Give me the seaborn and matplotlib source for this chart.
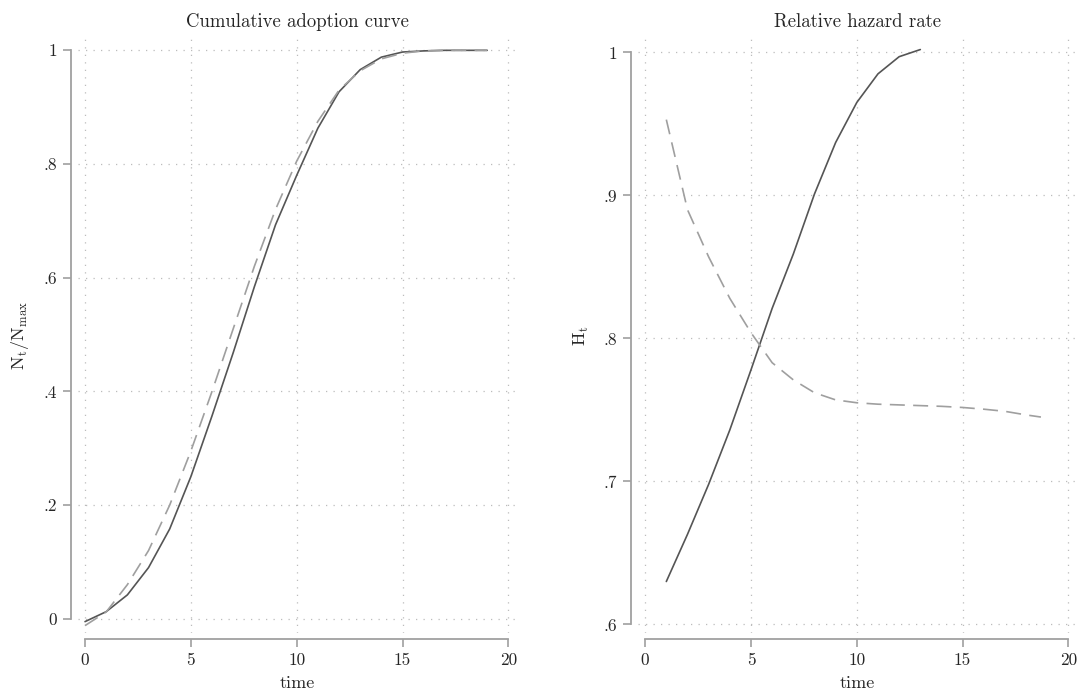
import numpy as np
import pandas as pd
import seaborn as sns
import matplotlib
matplotlib.use("Agg")
import matplotlib.pyplot as plt

# ---------------- data ----------------
time_adopt = list(range(0, 20))
adopt_solid = [-0.005, 0.0125, 0.042, 0.090, 0.158, 0.250, 0.357, 0.468, 0.584, 0.693,
               0.780, 0.863, 0.927, 0.966, 0.988, 0.997, 0.999, 1.000, 1.000, 1.000]
adopt_dashed = [-0.012, 0.012, 0.060, 0.120, 0.200, 0.295, 0.400, 0.510, 0.620, 0.720,
                0.805, 0.875, 0.930, 0.964, 0.985, 0.995, 0.999, 1.000, 1.000, 1.000]

time_hz_solid = list(range(1, 14))
hazard_solid = [0.630, 0.663, 0.698, 0.736, 0.778, 0.821, 0.859, 0.901, 0.937, 0.965,
                0.985, 0.997, 1.002]
time_hz_dashed = [1, 2, 3, 4, 5, 6, 7, 8, 9, 10, 11, 12, 13, 14, 15, 16, 17, 18, 18.7]
hazard_dashed = [0.953, 0.890, 0.857, 0.828, 0.804, 0.783, 0.771, 0.762, 0.757, 0.755,
                 0.754, 0.7535, 0.753, 0.7525, 0.7517, 0.7505, 0.749, 0.7465, 0.745]

x_ticks = [0, 5, 10, 15, 20]
x_ticklabels = ["0", "5", "10", "15", "20"]
y1_ticks = [0, 0.2, 0.4, 0.6, 0.8, 1.0]
y1_ticklabels = ["0", ".2", ".4", ".6", ".8", "1"]
y2_ticks = [0.6, 0.7, 0.8, 0.9, 1.0]
y2_ticklabels = [".6", ".7", ".8", ".9", "1"]

titles = ["Cumulative adoption curve", "Relative hazard rate"]
ylabels = [r"$\mathrm{N_t/N_{max}}$", r"$\mathrm{H_t}$"]
xlabel = "time"

# ---------------- style ----------------
sns.set_theme(style="white")
plt.rcParams["font.family"] = ["cmr10", "DejaVu Serif"]
plt.rcParams["mathtext.fontset"] = "cm"
plt.rcParams["axes.unicode_minus"] = False
plt.rcParams["axes.formatter.use_mathtext"] = True

SOLID = "#555555"
DASH = "#9f9f9f"
SPINE = "#a0a0a0"

fig = plt.figure(figsize=(10.78, 6.93), dpi=100)
ax1 = fig.add_axes([0.0724, 0.0866, 0.407, 0.858])
ax2 = fig.add_axes([0.592, 0.0866, 0.407, 0.858])

df1 = pd.DataFrame({"time": time_adopt, "solid": adopt_solid, "dashed": adopt_dashed})
df2s = pd.DataFrame({"time": time_hz_solid, "h": hazard_solid})
df2d = pd.DataFrame({"time": time_hz_dashed, "h": hazard_dashed})

sns.lineplot(data=df1, x="time", y="solid", ax=ax1, color=SOLID, lw=1.2)
sns.lineplot(data=df1, x="time", y="dashed", ax=ax1, color=DASH, lw=1.2,
             linestyle=(0, (9, 5)))
sns.lineplot(data=df2s, x="time", y="h", ax=ax2, color=SOLID, lw=1.2)
sns.lineplot(data=df2d, x="time", y="h", ax=ax2, color=DASH, lw=1.2,
             linestyle=(0, (9, 5)))

ax1.set_ylim(-0.025, 1.021)
ax2.set_ylim(0.594, 1.0098)

for ax, yt, ytl, title, yl in [(ax1, y1_ticks, y1_ticklabels, titles[0], ylabels[0]),
                               (ax2, y2_ticks, y2_ticklabels, titles[1], ylabels[1])]:
    ax.set_xlim(-0.33, 20.4)
    ax.set_xticks(x_ticks)
    ax.set_xticklabels(x_ticklabels)
    ax.set_yticks(yt)
    ax.set_yticklabels(ytl)
    ax.grid(True, which="major", linestyle=(0, (1, 5)), color="#bcbcbc", lw=0.9)
    ax.set_title(title, fontsize=13.5, pad=8)
    ax.set_xlabel(xlabel, fontsize=13, labelpad=6)
    ax.set_ylabel(yl, fontsize=13, labelpad=9)
    for s in ["top", "right"]:
        ax.spines[s].set_visible(False)
    ax.spines["left"].set_position(("outward", 5))
    ax.spines["bottom"].set_position(("outward", 4))
    ax.spines["left"].set_bounds(yt[0], yt[-1])
    ax.spines["bottom"].set_bounds(0, 20)
    for s in ["left", "bottom"]:
        ax.spines[s].set_color(SPINE)
        ax.spines[s].set_linewidth(1.3)
    ax.tick_params(axis="both", which="major", direction="out", length=6, width=1.2,
                   color=SPINE, labelsize=12.5, left=True, bottom=True, pad=4)

fig.savefig("out.png", dpi=100, facecolor="white")
